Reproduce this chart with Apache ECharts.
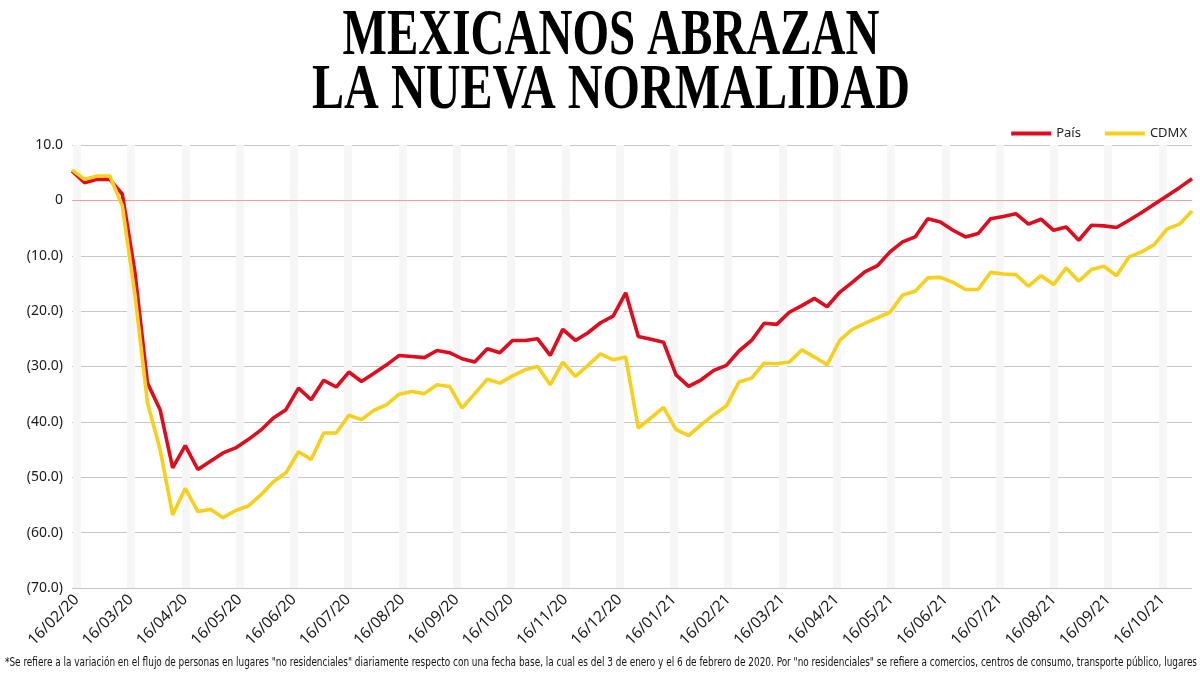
<!DOCTYPE html>
<html><head><meta charset="utf-8">
<script src="https://cdn.jsdelivr.net/npm/echarts@6/dist/echarts.min.js"></script>
<style>html,body{margin:0;padding:0;background:#fff}#c{width:1200px;height:674px}</style>
</head><body><div id="c"></div>
<script>
const titleLines = ['MEXICANOS ABRAZAN', 'LA NUEVA NORMALIDAD'];
const footnote = '*Se refiere a la variación en el flujo de personas en lugares "no residenciales" diariamente respecto con una fecha base, la cual es del 3 de enero y el 6 de febrero de 2020. Por "no residenciales" se refiere a comercios, centros de consumo, transporte público, lugares';
const seriesNames = ['País', 'CDMX'];
const firstWeek = [2020, 2, 15]; // weekly points from 15/02/2020
const pais = [5.3, 3.2, 3.8, 3.8, 1.1, -13.0, -33.0, -37.8, -48.3, -44.3,
  -48.6, -47.1, -45.6, -44.7, -43.2, -41.5, -39.3, -37.8, -33.9, -36.0,
  -32.5, -33.7, -31.0, -32.7, -31.2, -29.7, -28.0, -28.2, -28.4, -27.1,
  -27.5, -28.6, -29.2, -26.8, -27.5, -25.3, -25.3, -25.0, -28.0, -23.3,
  -25.3, -23.9, -22.1, -20.9, -16.7, -24.6, -25.1, -25.6, -31.5, -33.6,
  -32.4, -30.7, -29.8, -27.2, -25.3, -22.2, -22.4, -20.2, -19.0, -17.7,
  -19.2, -16.6, -14.8, -12.9, -11.8, -9.3, -7.5, -6.6, -3.3, -3.9,
  -5.4, -6.6, -6.0, -3.3, -2.9, -2.4, -4.3, -3.4, -5.4, -4.8,
  -7.2, -4.5, -4.6, -4.9, -3.6, -2.2, -0.7, 0.8, 2.3, 3.9];
const cdmx = [5.5, 3.8, 4.4, 4.4, -1.0, -17.0, -36.6, -45.0, -56.8, -52.0,
  -56.2, -55.8, -57.3, -56.0, -55.2, -53.2, -50.8, -49.2, -45.4, -46.8,
  -42.0, -42.0, -38.8, -39.6, -37.9, -36.9, -35.0, -34.5, -34.9, -33.3,
  -33.6, -37.5, -34.9, -32.3, -33.0, -31.7, -30.6, -30.0, -33.3, -29.2,
  -31.8, -29.8, -27.7, -28.8, -28.3, -41.1, -39.3, -37.4, -41.4, -42.5,
  -40.5, -38.7, -37.1, -32.8, -32.1, -29.4, -29.5, -29.2, -27.0, -28.3,
  -29.7, -25.3, -23.3, -22.2, -21.2, -20.2, -17.1, -16.4, -14.0, -13.9,
  -14.8, -16.1, -16.1, -13.0, -13.3, -13.4, -15.5, -13.6, -15.2, -12.2,
  -14.6, -12.5, -11.9, -13.6, -10.2, -9.3, -8.0, -5.2, -4.3, -1.9];
const tickLabels = ['16/02/20','16/03/20','16/04/20','16/05/20','16/06/20','16/07/20','16/08/20',
  '16/09/20','16/10/20','16/11/20','16/12/20','16/01/21','16/02/21','16/03/21','16/04/21',
  '16/05/21','16/06/21','16/07/21','16/08/21','16/09/21','16/10/21'];
const yMin = -70, yMax = 10, yStep = 10;

// x = days elapsed since the first weekly point; labelled ticks sit on an even ~monthly grid (as in the source)
const tickStart = 2.6, tickStep = 30.2;
const weekDays = pais.map((_, i) => 7 * i);
const tickDays = tickLabels.map((_, k) => tickStart + tickStep * k);
const labelAt = v => tickLabels[Math.round((v - tickStart) / tickStep)] || '';
const fmtY = v => v === 0 ? '0' : (v > 0 ? v.toFixed(1) : '(' + (-v).toFixed(1) + ')');

const ctx = document.createElement('canvas').getContext('2d');
const fitScale = (text, font, target) => { ctx.font = font; return target / ctx.measureText(text).width; };
const tFont1 = 'bold 65px "Liberation Serif"';
const tFont2 = 'bold 64px "Liberation Serif"';
const fFont = '12px "Liberation Sans Narrow", "DejaVu Sans Condensed", sans-serif';

const chart = echarts.init(document.getElementById('c'), null, {renderer: 'canvas'});
chart.setOption({
  animation: false,
  backgroundColor: '#fff',
  grid: {left: 72, right: 8, top: 145, bottom: 86, containLabel: false},
  legend: {
    data: seriesNames, right: 8, top: 122, icon: 'rect', itemWidth: 40, itemHeight: 4, itemGap: 24,
    textStyle: {fontFamily: 'Noto Sans', fontSize: 13, color: '#222'}
  },
  xAxis: {
    type: 'value', min: 0, max: weekDays[weekDays.length - 1],
    axisLine: {show: false}, axisTick: {show: false, customValues: tickDays},
    axisLabel: {customValues: tickDays, rotate: 45, formatter: labelAt, fontFamily: 'Noto Sans', fontSize: 15.5, color: '#1a1a1a', margin: 9, hideOverlap: false, showMinLabel: true, showMaxLabel: true},
    splitLine: {show: true, lineStyle: {color: '#f6f6f6', width: 8}}
  },
  yAxis: {
    type: 'value', min: yMin, max: yMax, interval: yStep,
    axisLine: {show: false}, axisTick: {show: false},
    axisLabel: {formatter: fmtY, fontFamily: 'Noto Sans', fontSize: 14, color: '#1a1a1a', margin: 9},
    splitLine: {lineStyle: {color: '#c6c6c6', width: 1}}
  },
  series: [
    {name: seriesNames[0], type: 'line', symbol: 'none', color: '#e00b1c',
     lineStyle: {width: 3.6, color: '#e00b1c'},
     data: weekDays.map((d, i) => [d, pais[i]]),
     markLine: {silent: true, symbol: 'none', z: 1, label: {show: false},
       lineStyle: {color: '#f5a0a0', width: 1.2, type: 'solid'}, data: [{yAxis: 0}]}},
    {name: seriesNames[1], type: 'line', symbol: 'none', color: '#f8d01c',
     lineStyle: {width: 3.6, color: '#f8d01c'},
     data: weekDays.map((d, i) => [d, cdmx[i]])}
  ],
  graphic: [
    {type: 'text', x: 611, y: 37, scaleX: fitScale(titleLines[0], tFont1, 537), style: {text: titleLines[0], font: tFont1, fill: '#000', textAlign: 'center', textVerticalAlign: 'middle'}},
    {type: 'text', x: 611, y: 91, scaleX: fitScale(titleLines[1], tFont2, 598), style: {text: titleLines[1], font: tFont2, fill: '#000', textAlign: 'center', textVerticalAlign: 'middle'}},
    {type: 'text', x: 5, y: 663, scaleX: fitScale(footnote, fFont, 1192), style: {text: footnote, font: fFont, fill: '#111', textAlign: 'left', textVerticalAlign: 'middle'}}
  ]
});
</script></body></html>
